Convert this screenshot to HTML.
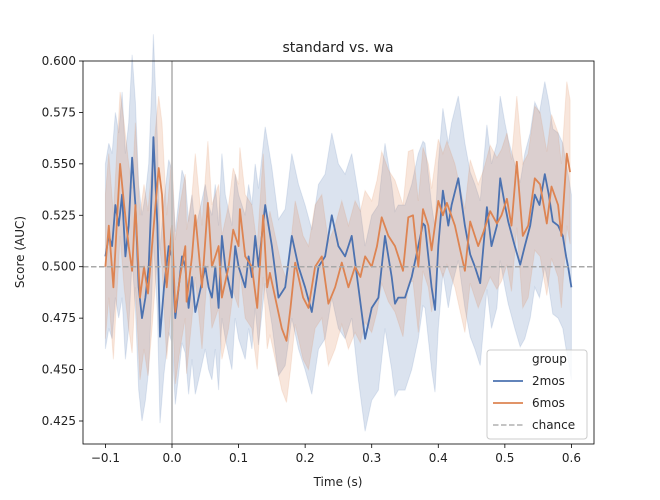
<!DOCTYPE html>
<html><head><meta charset="utf-8"><style>
body{margin:0;background:#fff;}
svg{display:block;font-family:"DejaVu Sans","Liberation Sans",sans-serif;}
</style></head><body>
<svg id="chart" width="660" height="500" viewBox="0 0 660 500" xmlns="http://www.w3.org/2000/svg">
<rect x="0" y="0" width="660" height="500" fill="#fff"/>
<g id="plot"></g>
</svg>
<script>
const xTicks = [-0.1, 0.0, 0.1, 0.2, 0.3, 0.4, 0.5, 0.6];
const xTickLabels = ["−0.1", "0.0", "0.1", "0.2", "0.3", "0.4", "0.5", "0.6"];
const yTicks = [0.425, 0.45, 0.475, 0.5, 0.525, 0.55, 0.575, 0.6];
const yTickLabels = ["0.425", "0.450", "0.475", "0.500", "0.525", "0.550", "0.575", "0.600"];
const blueT = [-0.10,-0.095,-0.09,-0.085,-0.08,-0.075,-0.07,-0.065,-0.06,-0.055,-0.05,-0.045,-0.04,-0.035,-0.03,-0.028,-0.022,-0.018,-0.012,-0.005,0.0,0.005,0.01,0.015,0.02,0.025,0.03,0.035,0.04,0.05,0.055,0.06,0.065,0.07,0.075,0.08,0.09,0.095,0.10,0.11,0.115,0.12,0.125,0.13,0.14,0.15,0.16,0.17,0.18,0.19,0.20,0.21,0.22,0.23,0.24,0.25,0.26,0.27,0.28,0.29,0.30,0.31,0.32,0.33,0.335,0.34,0.35,0.36,0.37,0.377,0.38,0.39,0.395,0.40,0.407,0.415,0.42,0.43,0.44,0.448,0.455,0.463,0.473,0.48,0.488,0.493,0.50,0.505,0.515,0.523,0.53,0.538,0.545,0.552,0.56,0.566,0.572,0.58,0.587,0.592,0.595,0.60];
const blueV = [.505,.515,.51,.53,.52,.535,.505,.52,.553,.53,.49,.475,.485,.50,.54,.563,.52,.466,.49,.51,.505,.475,.49,.505,.50,.48,.495,.478,.485,.50,.49,.485,.50,.48,.515,.50,.485,.51,.50,.49,.505,.495,.515,.50,.53,.51,.485,.49,.515,.50,.49,.478,.50,.505,.525,.51,.505,.515,.49,.465,.48,.485,.515,.495,.482,.485,.485,.495,.51,.521,.52,.49,.479,.51,.537,.52,.53,.543,.52,.506,.50,.492,.529,.51,.52,.543,.53,.522,.51,.501,.51,.52,.535,.53,.545,.535,.522,.52,.515,.505,.50,.49];
const orangeT = [-0.10,-0.095,-0.088,-0.083,-0.078,-0.072,-0.065,-0.06,-0.055,-0.048,-0.042,-0.036,-0.03,-0.02,-0.015,-0.008,0,0.005,0.012,0.02,0.022,0.03,0.035,0.045,0.054,0.06,0.065,0.07,0.075,0.085,0.092,0.1,0.102,0.11,0.12,0.128,0.137,0.143,0.147,0.155,0.165,0.172,0.178,0.185,0.19,0.197,0.205,0.215,0.225,0.235,0.245,0.255,0.265,0.275,0.283,0.29,0.30,0.308,0.315,0.325,0.335,0.347,0.355,0.362,0.37,0.377,0.385,0.39,0.40,0.407,0.413,0.425,0.433,0.44,0.448,0.46,0.468,0.478,0.488,0.495,0.503,0.51,0.518,0.527,0.535,0.545,0.553,0.563,0.57,0.58,0.585,0.593,0.598];
const orangeV = [.50,.52,.49,.52,.55,.53,.51,.498,.53,.485,.50,.487,.51,.548,.535,.49,.52,.478,.495,.51,.483,.505,.525,.49,.531,.50,.505,.51,.485,.50,.518,.51,.528,.505,.50,.48,.525,.49,.497,.485,.47,.464,.48,.502,.495,.485,.48,.50,.505,.482,.49,.502,.49,.50,.495,.505,.50,.51,.524,.515,.51,.498,.524,.525,.50,.528,.52,.508,.532,.525,.531,.52,.508,.498,.522,.51,.517,.527,.521,.525,.533,.52,.551,.515,.52,.543,.54,.521,.539,.53,.515,.555,.546];
const ciT = [-0.1,-0.05,0,0.05,0.1,0.15,0.2,0.25,0.3,0.35,0.4,0.45,0.5,0.55,0.6];
const blueCi = [.045,.05,.042,.04,.035,.038,.04,.04,.045,.045,.04,.04,.04,.045,.045];
const orangeCi = [.035,.04,.035,.03,.03,.03,.03,.03,.032,.032,.03,.03,.032,.035,.035];

const L=83,R=594,T=61,B=444;
const xs = t => 172 + t*(571-105)/0.7;
const ys = v => 61 + (0.6 - v)*(421-61)/0.175;
const NS='http://www.w3.org/2000/svg';
const plot=document.getElementById('plot');
function mk(tag, attrs, parent){const e=document.createElementNS(NS,tag);for(const k in attrs)e.setAttribute(k,attrs[k]);(parent||plot).appendChild(e);return e;}
function ciAt(arr,t){let bi=0,bd=1e9;ciT.forEach((c,i)=>{const d=Math.abs(c-t);if(d<bd){bd=d;bi=i;}});return arr[bi];}

function series(ts,vs,ci,color,name){
  const up=ts.map((t,i)=>xs(t).toFixed(1)+','+ys(vs[i]+ciAt(ci,t)).toFixed(1));
  const lo=ts.map((t,i)=>xs(t).toFixed(1)+','+ys(vs[i]-ciAt(ci,t)).toFixed(1)).reverse();
  const band=mk('polygon',{points:up.concat(lo).join(' '),fill:color,'fill-opacity':0.2,stroke:color,'stroke-opacity':0.15,'stroke-width':1});
  
  
  return ()=>{
    const line=mk('polyline',{points:ts.map((t,i)=>xs(t).toFixed(1)+','+ys(vs[i]).toFixed(1)).join(' '),fill:'none',stroke:color,'stroke-width':1.8,'stroke-linejoin':'round'});
    
    
  };
}
const drawBlue=series(blueT,blueV,blueCi,'#4c72b0','2mos');
const drawOrange=series(orangeT,orangeV,orangeCi,'#dd8452','6mos');
drawBlue();
drawOrange();

const vl=mk('line',{x1:xs(0),x2:xs(0),y1:T,y2:B,stroke:'#bcbcbc','stroke-width':1.8});


const cl=mk('line',{x1:L,x2:R,y1:ys(0.5),y2:ys(0.5),stroke:'#a8a8a8','stroke-width':1.5,'stroke-dasharray':'5.5,2.5'});



const frame=mk('rect',{x:L,y:T,width:R-L,height:B-T,fill:'none',stroke:'#000','stroke-width':0.8});



xTicks.forEach((t,i)=>{
  const x=xs(t);
  const tk=mk('line',{x1:x,x2:x,y1:B,y2:B+4,stroke:'#000','stroke-width':0.8});
  
  
  const tx=mk('text',{x:x,y:B+18,'text-anchor':'middle','font-size':12,fill:'#222'});
  tx.textContent=xTickLabels[i];
  
  
});
yTicks.forEach((v,i)=>{
  const y=ys(v);
  const tk=mk('line',{x1:L-4,x2:L,y1:y,y2:y,stroke:'#000','stroke-width':0.8});
  
  
  const tx=mk('text',{x:L-7,y:y+4,'text-anchor':'end','font-size':12,fill:'#222'});
  tx.textContent=yTickLabels[i];
  
  
});
</script>
<svg style="position:absolute;left:0;top:0" width="660" height="500" font-family="DejaVu Sans, Liberation Sans, sans-serif">
<text x="338" y="52" text-anchor="middle" font-size="14" fill="#222">standard vs. wa</text>
<text x="338" y="486" text-anchor="middle" font-size="12" fill="#222">Time (s)</text>
<text transform="translate(24,252) rotate(-90)" text-anchor="middle" font-size="12" fill="#222">Score (AUC)</text>
<g>
<rect x="487" y="350" width="100" height="89" rx="3" fill="#fff" fill-opacity="0.8" stroke="#ccc"/>
<text x="532" y="363" font-size="12" fill="#222">group</text>
<line x1="493" y1="381" x2="523" y2="381" stroke="#4c72b0" stroke-width="1.8"/>
<text x="532" y="385" font-size="12" fill="#222">2mos</text>
<line x1="493" y1="403" x2="523" y2="403" stroke="#dd8452" stroke-width="1.8"/>
<text x="532" y="407" font-size="12" fill="#222">6mos</text>
<line x1="493" y1="425" x2="523" y2="425" stroke="#b0b0b0" stroke-width="1.5" stroke-dasharray="5.5,2.5"/>
<text x="532" y="429" font-size="12" fill="#222">chance</text>
</g>
</svg>
</body></html>
